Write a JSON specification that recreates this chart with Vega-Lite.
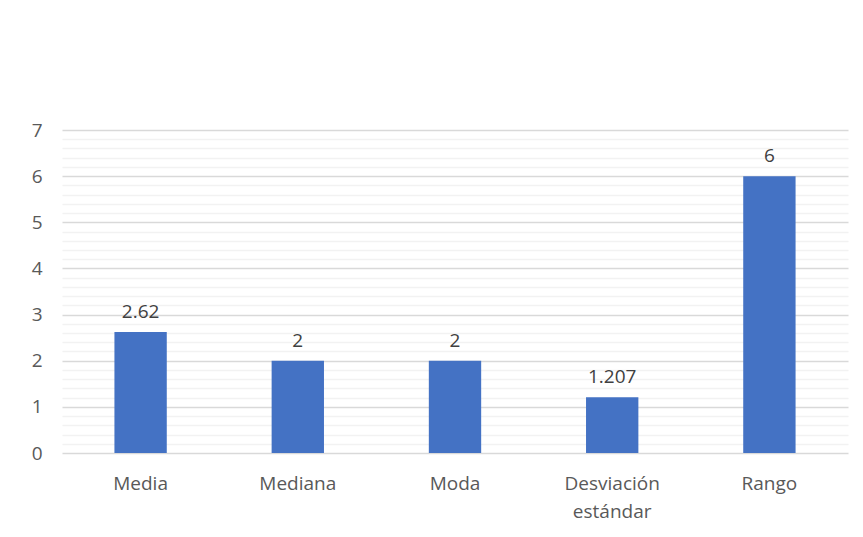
{
  "$schema": "https://vega.github.io/schema/vega-lite/v6.json",
  "autosize": "none",
  "width": 786,
  "height": 323,
  "padding": {"left": 62, "top": 130, "right": 15, "bottom": 84},
  "background": "#ffffff",
  "config": {
    "view": {"stroke": null},
    "font": "Open Sans",
    "axis": {"labelFont": "Open Sans", "labelColor": "#595959", "labelFontSize": 19}
  },
  "data": {
    "values": [
      {"medida": "Media", "valor": 2.62, "etiqueta": "2.62"},
      {"medida": "Mediana", "valor": 2, "etiqueta": "2"},
      {"medida": "Moda", "valor": 2, "etiqueta": "2"},
      {"medida": "Desviación estándar", "valor": 1.207, "etiqueta": "1.207"},
      {"medida": "Rango", "valor": 6, "etiqueta": "6"}
    ]
  },
  "encoding": {
    "x": {
      "field": "medida",
      "type": "nominal",
      "sort": null,
      "scale": {"paddingInner": 0, "paddingOuter": 0},
      "axis": {
        "title": null,
        "labelAngle": 0,
        "ticks": false,
        "domain": false,
        "grid": false,
        "labelPadding": 21,
        "labelLineHeight": 28,
        "labelExpr": "split(datum.label, ' ')"
      }
    },
    "y": {
      "field": "valor",
      "type": "quantitative",
      "scale": {"domain": [0, 7], "nice": false},
      "axis": {
        "title": null,
        "domain": false,
        "ticks": false,
        "labelPadding": 20,
        "values": [0,0.2,0.4,0.6,0.8,1,1.2,1.4,1.6,1.8,2,2.2,2.4,2.6,2.8,3,3.2,3.4,3.6,3.8,4,4.2,4.4,4.6,4.8,5,5.2,5.4,5.6,5.8,6,6.2,6.4,6.6,6.8,7],
        "labelExpr": "abs(datum.value - round(datum.value)) < 0.001 ? format(datum.value, 'd') : ''",
        "gridColor": {"condition": {"test": "abs(datum.value - round(datum.value)) < 0.001", "value": "#d9d9d9"}, "value": "#f2f2f2"},
        "gridWidth": 1.3
      }
    }
  },
  "layer": [
    {"mark": {"type": "bar", "color": "#4472c4", "width": {"band": 0.333}}},
    {
      "mark": {"type": "text", "baseline": "bottom", "dy": -10, "fontSize": 19, "color": "#404040", "font": "Open Sans"},
      "encoding": {"text": {"field": "etiqueta"}}
    }
  ]
}
